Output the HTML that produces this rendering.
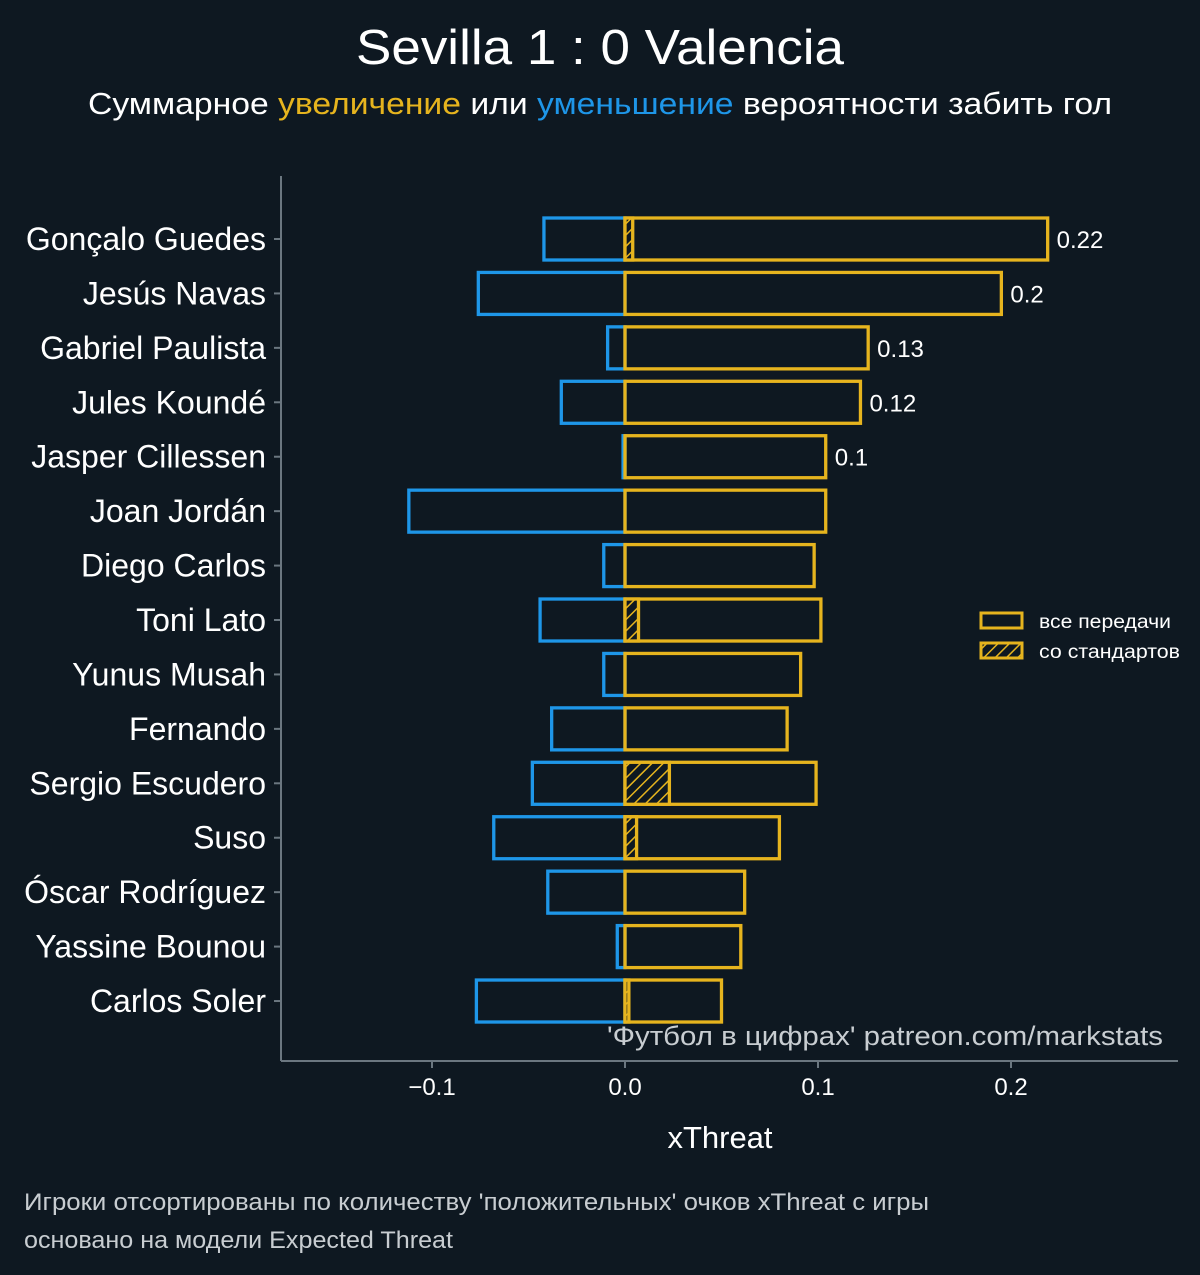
<!DOCTYPE html>
<html><head><meta charset="utf-8"><style>
body{margin:0;background:#0e1821;}
svg{display:block;font-family:"Liberation Sans","DejaVu Sans",sans-serif;}
</style></head><body>
<svg id="c" width="1200" height="1275" viewBox="0 0 1200 1275">
<defs>
<pattern id="hatch" patternUnits="userSpaceOnUse" width="8" height="8" patternTransform="rotate(45)">
<rect width="8" height="8" fill="#0e1821"/><line x1="0" y1="0" x2="0" y2="8" stroke="#e6b41e" stroke-width="3"/>
</pattern>
</defs>
<rect width="1200" height="1275" fill="#0e1821"/>
<text x="600" y="64" text-anchor="middle" font-size="49" fill="#fff" textLength="488" lengthAdjust="spacingAndGlyphs">Sevilla 1 : 0 Valencia</text>
<text x="600" y="114" text-anchor="middle" font-size="31" fill="#fff" textLength="1024" lengthAdjust="spacingAndGlyphs">Суммарное <tspan fill="#e6b41e">увеличение</tspan> или <tspan fill="#1e96e8">уменьшение</tspan> вероятности забить гол</text>
<g id="plot"></g>
<line x1="281" y1="176" x2="281" y2="1061" stroke="#6b7780" stroke-width="2"/>
<line x1="281" y1="1061" x2="1178" y2="1061" stroke="#6b7780" stroke-width="2"/>
<text x="720" y="1148" text-anchor="middle" font-size="31" fill="#fff">xThreat</text>
<text x="607" y="1045" font-size="27" fill="#c8cdd1" textLength="556" lengthAdjust="spacingAndGlyphs">'Футбол в цифрах' patreon.com/markstats</text>
<g>
<rect x="981" y="613" width="41" height="15" fill="none" stroke="#e6b41e" stroke-width="3"/>
<text x="1039" y="628" font-size="19" fill="#fff" textLength="132" lengthAdjust="spacingAndGlyphs">все передачи</text>
<rect x="981" y="643" width="41" height="15" fill="url(#hatch)" stroke="#e6b41e" stroke-width="3"/>
<text x="1039" y="658" font-size="19" fill="#fff" textLength="141" lengthAdjust="spacingAndGlyphs">со стандартов</text>
</g>
<text x="24" y="1210" font-size="24" fill="#c8cdd1" textLength="905" lengthAdjust="spacingAndGlyphs">Игроки отсортированы по количеству 'положительных' очков xThreat с игры</text>
<text x="24" y="1248" font-size="24" fill="#c8cdd1" textLength="429" lengthAdjust="spacingAndGlyphs">основано на модели Expected Threat</text>
</svg>
<script>
const players=["Gonçalo Guedes","Jesús Navas","Gabriel Paulista","Jules Koundé","Jasper Cillessen","Joan Jordán","Diego Carlos","Toni Lato","Yunus Musah","Fernando","Sergio Escudero","Suso","Óscar Rodríguez","Yassine Bounou","Carlos Soler"];
const positive=[0.219,0.195,0.126,0.122,0.104,0.104,0.098,0.1015,0.091,0.084,0.099,0.080,0.062,0.060,0.050];
const negative=[-0.042,-0.076,-0.009,-0.033,-0.001,-0.112,-0.011,-0.044,-0.011,-0.038,-0.048,-0.068,-0.040,-0.004,-0.077];
const setPiece=[0.004,0,0,0,0,0,0,0.007,0,0,0.023,0.006,0,0,0.002];
const valueLabels=["0.22","0.2","0.13","0.12","0.1","","","","","","","","","",""];
const xTicks=[-0.1,0,0.1,0.2];
const xTickLabels=["−0.1","0.0","0.1","0.2"];
const NS="http://www.w3.org/2000/svg";
const x=v=>625+v*1930;
const y=i=>239+i*54.43;
const g=document.getElementById('plot');
function mk(t,a){const e=document.createElementNS(NS,t);for(const k in a)e.setAttribute(k,a[k]);g.appendChild(e);return e;}
const H=42;
players.forEach((p,i)=>{
  const cy=y(i);
  let e=mk('rect',{x:x(negative[i]),y:cy-H/2,width:x(0)-x(negative[i]),height:H,fill:'none',stroke:'#1e96e8','stroke-width':3.3});
  
  
  e=mk('rect',{x:x(0),y:cy-H/2,width:x(positive[i])-x(0),height:H,fill:'none',stroke:'#e6b41e','stroke-width':3.3});
  
  
  if(setPiece[i]>0){
    e=mk('rect',{x:x(0),y:cy-H/2,width:x(setPiece[i])-x(0),height:H,fill:'url(#hatch)',stroke:'#e6b41e','stroke-width':3.3});
    
    
  }
  if(valueLabels[i]){
    e=mk('text',{x:x(positive[i])+9,y:cy+9,'font-size':24,fill:'#fff'});e.textContent=valueLabels[i];
    
    
  }
  e=mk('text',{x:266,y:cy+11,'font-size':32,fill:'#fff','text-anchor':'end'});e.textContent=p;
  
  
  e=mk('line',{x1:274,x2:281,y1:cy,y2:cy,stroke:'#6b7780','stroke-width':2});
  
  
});
xTicks.forEach((t,i)=>{
  let e=mk('line',{x1:x(t),x2:x(t),y1:1061,y2:1068,stroke:'#6b7780','stroke-width':2});
  
  
  e=mk('text',{x:x(t),y:1095,'font-size':24,fill:'#fff','text-anchor':'middle'});e.textContent=xTickLabels[i];
  
  
});
</script>
</body></html>
